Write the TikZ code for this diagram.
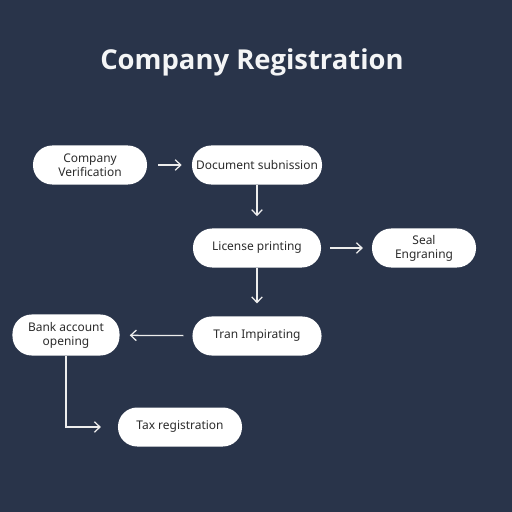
\documentclass[tikz,border=0pt]{standalone}
\usepackage{fontspec}
\setmainfont{Noto Sans}
\newfontfamily\titlefont{Open Sans}
\usetikzlibrary{arrows.meta,positioning}
\definecolor{cNavy}{HTML}{29344A}
\definecolor{cInk}{HTML}{2B2B2B}
\definecolor{cLine}{HTML}{EDEDED}
\begin{document}
\begin{tikzpicture}[
  x=0.025cm, y=-0.025cm,
  font=\fontsize{8.5}{10}\selectfont,
  pill/.style={rectangle, rounded corners=0.48cm, fill=white, text=cInk,
    align=center, minimum height=0.975cm, inner sep=2pt},
  flow/.style={-{Straight Barb[length=4pt,width=7.5pt]}, line width=0.9pt,
    color=cLine},
  hd/.style={font=\titlefont\fontsize{19.5}{22}\selectfont\bfseries, text=white!95!cNavy},
]
% ---------------------------------------------------------------- canvas
\fill[cNavy] (0,0) rectangle (512,512);
\node[hd] (title) at (252,62) {Company Registration};
% ---------------------------------------------------------------- row 1
\node[pill, minimum width=2.85cm] (verif) at (90,165) {Company\\Verification};
\node[pill, minimum width=3.25cm] (docs) at (257,165) {Document subnission};
% ---------------------------------------------------------------- row 2
\node[pill, minimum width=3.2cm] (licence) at (257,248) {License printing};
\node[pill, minimum width=2.6cm] (seal) at (424,248) {Seal\\Engraning};
% ---------------------------------------------------------------- row 3
\node[pill, minimum width=3.225cm] (tran) at (257,336) {Tran Impirating};
\node[pill, minimum width=2.675cm, minimum height=1.025cm] (bank) at (66,335)
  {Bank account\\opening};
% ---------------------------------------------------------------- row 4
\node[pill, minimum width=3.1cm] (tax) at (180,427) {Tax registration};
% ---------------------------------------------------------------- arrows
\draw[flow, shorten <=0.27cm, shorten >=0.25cm] (verif) -- (docs);
\draw[flow, shorten >=0.3cm] (docs) -- (licence);
\draw[flow, shorten <=0.22cm, shorten >=0.22cm] (licence) -- (seal);
\draw[flow, shorten >=0.32cm] (licence) -- (tran);
\draw[flow, shorten <=0.22cm, shorten >=0.25cm] (tran) -- (bank);
\draw[flow, shorten >=0.42cm] (bank.south) |- (tax.west);
\end{tikzpicture}
\end{document}
